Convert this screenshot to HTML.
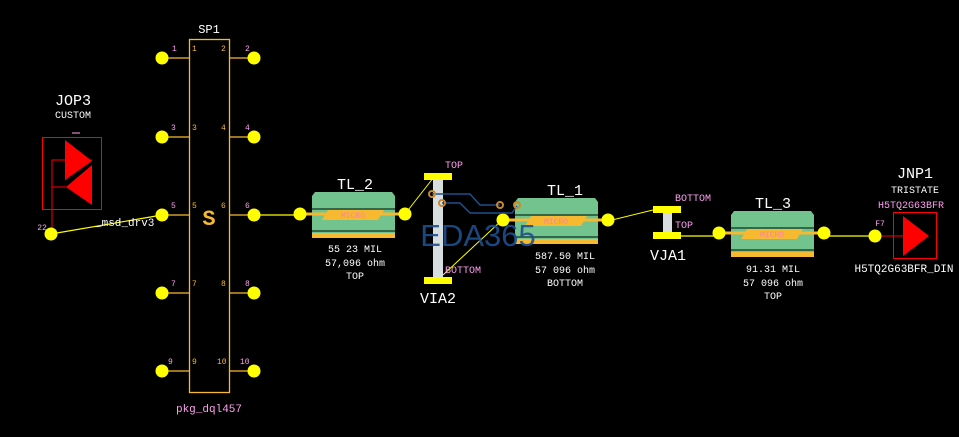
<!DOCTYPE html>
<html><head><meta charset="utf-8"><style>
html,body{margin:0;padding:0;background:#000;}
svg{display:block;}
text{font-family:"Liberation Mono",monospace;}
</style></head><body>
<svg width="959" height="437" viewBox="0 0 959 437" xmlns="http://www.w3.org/2000/svg">
<defs>
<g id="tl">
  <polygon points="3,0 80,0 83,4 83,46 0,46 0,4" fill="#72c38e"/>
  <rect x="0" y="41" width="83" height="5" fill="#f6b930"/>
  <line x1="0" y1="17" x2="83" y2="17" stroke="#103020" stroke-width="1.3"/>
  <line x1="0" y1="39" x2="83" y2="39" stroke="#103020" stroke-width="1.3"/>
  <line x1="-12" y1="22" x2="95" y2="22" stroke="#f6b930" stroke-width="3"/>
  <polygon points="16,18 72,18 66,28 10,28" fill="#f6b930"/>
  <text x="41" y="26" font-size="8" fill="#ff7fb0" text-anchor="middle">MICRO</text>
  <circle cx="-12" cy="22" r="6.5" fill="#ffff00"/>
  <circle cx="93" cy="22" r="6.5" fill="#ffff00"/>
</g>
</defs>

<!-- SP1 -->
<text x="209" y="33" font-size="12" fill="#fff" text-anchor="middle">SP1</text>
<rect x="189.5" y="39.5" width="40" height="353" fill="none" stroke="#f6b930" stroke-width="1.3"/>
<g stroke="#f6b930" stroke-width="1.3">
<line x1="162" y1="58" x2="189" y2="58"/><line x1="229" y1="58" x2="254" y2="58"/>
<line x1="162" y1="137" x2="189" y2="137"/><line x1="229" y1="137" x2="254" y2="137"/>
<line x1="162" y1="215" x2="189" y2="215"/><line x1="229" y1="215" x2="254" y2="215"/>
<line x1="162" y1="293" x2="189" y2="293"/><line x1="229" y1="293" x2="254" y2="293"/>
<line x1="162" y1="371" x2="189" y2="371"/><line x1="229" y1="371" x2="254" y2="371"/>
</g>
<g fill="#ffff00">
<circle cx="162" cy="58" r="6.5"/><circle cx="254" cy="58" r="6.5"/>
<circle cx="162" cy="137" r="6.5"/><circle cx="254" cy="137" r="6.5"/>
<circle cx="162" cy="215" r="6.5"/><circle cx="254" cy="215" r="6.5"/>
<circle cx="162" cy="293" r="6.5"/><circle cx="254" cy="293" r="6.5"/>
<circle cx="162" cy="371" r="6.5"/><circle cx="254" cy="371" r="6.5"/>
</g>
<g font-size="8" fill="#ff9ff0">
<text x="172" y="51">1</text><text x="245" y="51">2</text>
<text x="171" y="130">3</text><text x="245" y="130">4</text>
<text x="171" y="208">5</text><text x="245" y="208">6</text>
<text x="171" y="286">7</text><text x="245" y="286">8</text>
<text x="168" y="364">9</text><text x="240" y="364">10</text>
</g>
<g font-size="8" fill="#f6b930">
<text x="192" y="51">1</text><text x="221" y="51">2</text>
<text x="192" y="130">3</text><text x="221" y="130">4</text>
<text x="192" y="208">5</text><text x="221" y="208">6</text>
<text x="192" y="286">7</text><text x="221" y="286">8</text>
<text x="192" y="364">9</text><text x="217" y="364">10</text>
</g>
<text x="209" y="225" font-size="22" font-weight="bold" fill="#f6b930" text-anchor="middle">S</text>
<text x="209" y="412" font-size="11" fill="#ff9ff0" text-anchor="middle">pkg_dql457</text>

<!-- JOP3 -->
<text x="73" y="105" font-size="15" fill="#fff" text-anchor="middle">JOP3</text>
<text x="73" y="118" font-size="10" fill="#fff" text-anchor="middle">CUSTOM</text>
<line x1="72" y1="133" x2="80" y2="133" stroke="#ff9ff0"/>
<rect x="42.5" y="137.5" width="59" height="72" fill="none" stroke="#ff0000" stroke-width="1"/>
<polygon points="65,140 92,161 65,180" fill="#ff0000"/>
<polygon points="92,165 92,205 66,187" fill="#ff0000"/>
<polyline points="52,234 52,160 92,160" fill="none" stroke="#ff0000"/>
<line x1="52" y1="187" x2="92" y2="187" stroke="#ff0000"/>
<line x1="66" y1="145" x2="66" y2="180" stroke="#ff0000"/>
<text x="42" y="230" font-size="8" fill="#ff9ff0" text-anchor="middle">22</text>
<line x1="51" y1="234" x2="162" y2="215" stroke="#ffff00" stroke-width="1.2"/>
<circle cx="51" cy="234" r="6.5" fill="#ffff00"/>
<text x="95" y="226" font-size="11" fill="#fff">_msd_drv3</text>

<!-- TL_2 -->
<line x1="254" y1="215" x2="300" y2="215" stroke="#ffff00" stroke-width="1.3"/>
<use href="#tl" x="312" y="192"/>
<text x="355" y="189" font-size="15" fill="#fff" text-anchor="middle">TL_2</text>
<text x="355" y="252" font-size="10" fill="#fff" text-anchor="middle">55 23 MIL</text>
<text x="355" y="266" font-size="10" fill="#fff" text-anchor="middle">57,096 ohm</text>
<text x="355" y="279" font-size="10" fill="#fff" text-anchor="middle">TOP</text>

<!-- VIA2 -->
<line x1="405" y1="214" x2="434" y2="177" stroke="#ffff00" stroke-width="1"/>
<line x1="443" y1="275" x2="501" y2="221" stroke="#ffff00" stroke-width="1"/>
<rect x="433" y="179" width="10" height="98" fill="#d8dde0"/>
<rect x="424" y="173" width="28" height="7" fill="#ffff00"/>
<rect x="424" y="277" width="28" height="7" fill="#ffff00"/>
<text x="445" y="168" font-size="10" fill="#ff9ff0">TOP</text>
<text x="445" y="273" font-size="10" fill="#ff9ff0">BOTTOM</text>
<text x="438" y="303" font-size="15" fill="#fff" text-anchor="middle">VIA2</text>

<!-- TL_1 -->
<use href="#tl" x="515" y="198"/>
<text x="565" y="195" font-size="15" fill="#fff" text-anchor="middle">TL_1</text>
<text x="565" y="259" font-size="10" fill="#fff" text-anchor="middle">587.50 MIL</text>
<text x="565" y="273" font-size="10" fill="#fff" text-anchor="middle">57 096 ohm</text>
<text x="565" y="286" font-size="10" fill="#fff" text-anchor="middle">BOTTOM</text>

<!-- watermark -->
<g fill="none" stroke="#1d4f8a" stroke-width="1.5">
<polyline points="432,194 470,194 480,205 500,205"/>
<polyline points="442,203 460,203 470,213 512,213 517,206"/>
</g>
<g fill="none" stroke="#c8892d" stroke-width="2">
<circle cx="432" cy="194" r="3"/><circle cx="442" cy="203" r="3"/>
<circle cx="500" cy="205" r="3"/><circle cx="517" cy="205" r="3"/>
</g>
<text x="478" y="246" font-family="Liberation Sans,sans-serif" font-size="31" fill="#1e4f8f" fill-opacity="0.9" text-anchor="middle" style="font-family:'Liberation Sans',sans-serif">EDA365</text>

<!-- VIA1 -->
<line x1="608" y1="221" x2="653" y2="210" stroke="#ffff00" stroke-width="1"/>
<rect x="663" y="212" width="9" height="21" fill="#d8dde0"/>
<rect x="653" y="206" width="28" height="7" fill="#ffff00"/>
<rect x="653" y="232" width="28" height="7" fill="#ffff00"/>
<line x1="681" y1="236" x2="718" y2="236" stroke="#ffff00" stroke-width="1.3"/>
<text x="675" y="201" font-size="10" fill="#ff9ff0">BOTTOM</text>
<text x="675" y="228" font-size="10" fill="#ff9ff0">TOP</text>
<text x="668" y="260" font-size="15" fill="#fff" text-anchor="middle">VJA1</text>

<!-- TL_3 -->
<use href="#tl" x="731" y="211"/>
<text x="773" y="208" font-size="15" fill="#fff" text-anchor="middle">TL_3</text>
<text x="773" y="272" font-size="10" fill="#fff" text-anchor="middle">91.31 MIL</text>
<text x="773" y="286" font-size="10" fill="#fff" text-anchor="middle">57 096 ohm</text>
<text x="773" y="299" font-size="10" fill="#fff" text-anchor="middle">TOP</text>

<!-- JNP1 -->
<line x1="822" y1="236" x2="875" y2="236" stroke="#ffff00" stroke-width="1.3"/>
<line x1="875" y1="236" x2="905" y2="236" stroke="#ff0000"/>
<circle cx="875" cy="236" r="6.5" fill="#ffff00"/>
<text x="880" y="226" font-size="8" fill="#ff9ff0" text-anchor="middle">F7</text>
<rect x="893.5" y="212.5" width="43" height="46" fill="none" stroke="#ff0000"/>
<polygon points="903,216 929,236 903,256" fill="#ff0000"/>
<text x="915" y="178" font-size="15" fill="#fff" text-anchor="middle">JNP1</text>
<text x="915" y="193" font-size="10" fill="#fff" text-anchor="middle">TRISTATE</text>
<text x="911" y="208" font-size="10" fill="#ff9ff0" text-anchor="middle">H5TQ2G63BFR</text>
<text x="904" y="272" font-size="11" fill="#fff" text-anchor="middle">H5TQ2G63BFR_DIN</text>
</svg>
</body></html>
